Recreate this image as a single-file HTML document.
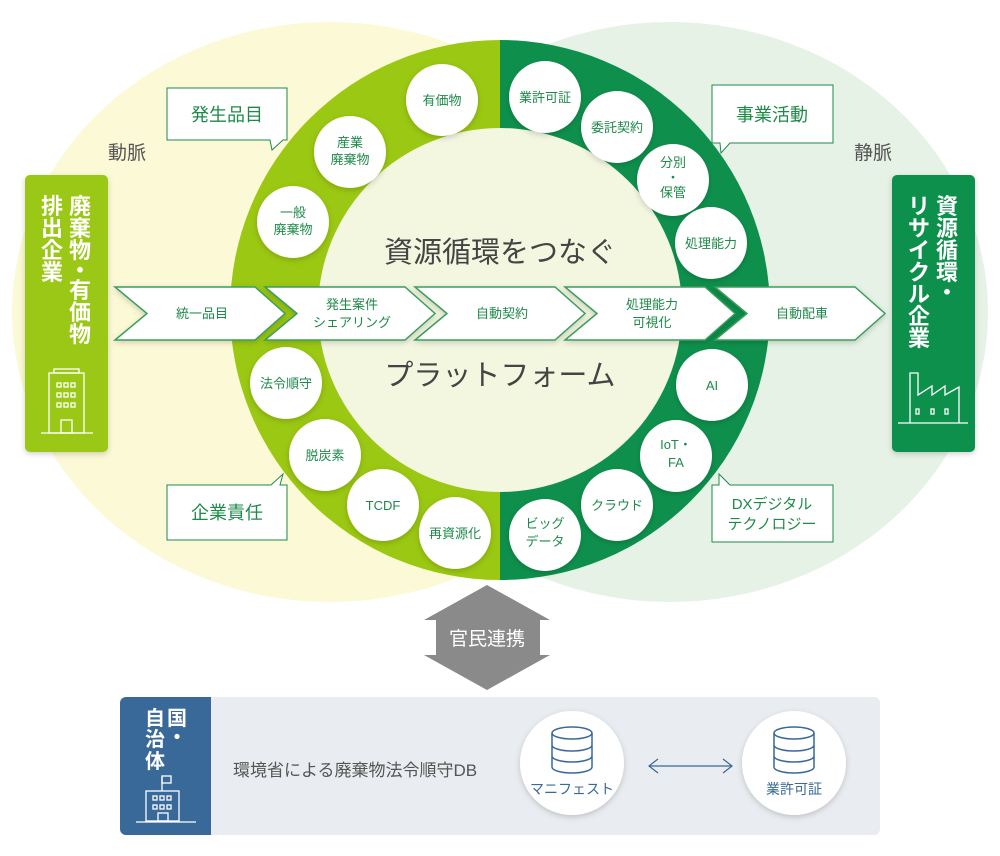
<!DOCTYPE html>
<html><head><meta charset="utf-8"><style>
html,body{margin:0;padding:0;background:#fff}
svg{display:block}
text{font-family:"Liberation Sans","Noto Sans CJK JP",sans-serif}
</style></head><body>
<svg width="1000" height="856" viewBox="0 0 1000 856" xmlns="http://www.w3.org/2000/svg">
<defs>
<filter id="sh" x="-20%" y="-20%" width="140%" height="140%"><feDropShadow dx="0" dy="2" stdDeviation="3" flood-color="#000" flood-opacity="0.18"/></filter>
</defs>
<ellipse cx="330" cy="312" rx="318" ry="290" fill="#fcf9d6"/>
<ellipse cx="670" cy="312" rx="318" ry="290" fill="#e6f2e5"/>
<path d="M500 40 A270 270 0 0 0 500 580Z" fill="#9bc812"/>
<path d="M500 40 A270 270 0 0 1 500 580Z" fill="#0e904c"/>
<circle cx="500" cy="310" r="182" fill="#f3f7e0"/>
<text x="500" y="262" font-size="29" fill="#444" text-anchor="middle">資源循環をつなぐ</text>
<text x="500" y="385" font-size="29" fill="#444" text-anchor="middle">プラットフォーム</text>

<g filter="url(#sh)" fill="#fff">
<circle cx="442" cy="100" r="36"/><circle cx="350" cy="152" r="36"/><circle cx="293" cy="222" r="36"/>
<circle cx="286" cy="383" r="36"/><circle cx="325" cy="455" r="36"/><circle cx="383" cy="505" r="36"/><circle cx="455" cy="533" r="36"/>
<circle cx="545" cy="97" r="36"/><circle cx="617" cy="127" r="36"/><circle cx="673" cy="180" r="36"/><circle cx="711" cy="243" r="36"/>
<circle cx="712" cy="385" r="36"/><circle cx="676" cy="456" r="36"/><circle cx="617" cy="505" r="36"/><circle cx="545" cy="535" r="36"/>
</g>
<g font-size="13" fill="#1e8a4a" text-anchor="middle">
<text x="442" y="105">有価物</text>
<text x="350" y="147">産業</text><text x="350" y="164">廃棄物</text>
<text x="293" y="217">一般</text><text x="293" y="234">廃棄物</text>
<text x="286" y="388">法令順守</text>
<text x="325" y="460">脱炭素</text>
<text x="383" y="510">TCDF</text>
<text x="455" y="538">再資源化</text>
<text x="545" y="102">業許可証</text>
<text x="617" y="132">委託契約</text>
<text x="673" y="167">分別</text><text x="673" y="182">・</text><text x="673" y="197">保管</text>
<text x="711" y="248">処理能力</text>
<text x="712" y="390">AI</text>
<text x="676" y="449">IoT・</text><text x="676" y="467">FA</text>
<text x="617" y="510">クラウド</text>
<text x="545" y="528">ビッグ</text><text x="545" y="546">データ</text>
</g>

<g stroke="#3a9e5c" stroke-width="1.5" fill="#fff" filter="url(#sh)">
<path d="M115 287 L255 287 L285 313.5 L255 340 L115 340 L147 313.5Z"/>
<path d="M265 287 L405 287 L435 313.5 L405 340 L265 340 L297 313.5Z"/>
<path d="M415 287 L555 287 L585 313.5 L555 340 L415 340 L447 313.5Z"/>
<path d="M565 287 L705 287 L735 313.5 L705 340 L565 340 L597 313.5Z"/>
<path d="M715 287 L855 287 L885 313.5 L855 340 L715 340 L747 313.5Z"/>
</g>
<g font-size="13" fill="#1e8a4a" text-anchor="middle">
<text x="202" y="318">統一品目</text>
<text x="352" y="309">発生案件</text><text x="352" y="327">シェアリング</text>
<text x="502" y="318">自動契約</text>
<text x="652" y="309">処理能力</text><text x="652" y="327">可視化</text>
<text x="802" y="318">自動配車</text>
</g>

<g fill="#fff" stroke="#1e8a4a" stroke-width="1">
<path d="M167 88 H287 V140 H283 L272 150 L270 140 H167Z"/>
<path d="M712 85 H833 V143 H730 L721 153 L720 143 H712Z"/>
<path d="M167 485 H271 L283 474 L280 485 H287 V540 H167Z"/>
<path d="M712 485 H719 L719 474 L730 485 H833 V542 H712Z"/>
</g>
<g font-size="18" fill="#1e8a4a" text-anchor="middle">
<text x="227" y="121">発生品目</text>
<text x="772" y="121">事業活動</text>
<text x="227" y="519">企業責任</text>
</g>
<text x="772" y="509" font-size="15" fill="#1e8a4a" text-anchor="middle">DXデジタル</text>
<text x="772" y="529" font-size="15" fill="#1e8a4a" text-anchor="middle">テクノロジー</text>
<text x="127" y="159" font-size="19" fill="#555" text-anchor="middle">動脈</text>
<text x="873" y="159" font-size="19" fill="#555" text-anchor="middle">静脈</text>

<rect x="25" y="175" width="83" height="277" rx="5" fill="#9bc812" filter="url(#sh)"/>
<g font-size="22" font-weight="bold" fill="#fff" text-anchor="middle">
<text x="80" y="214">廃</text><text x="80" y="236">棄</text><text x="80" y="258">物</text><text x="80" y="278">・</text><text x="80" y="298">有</text><text x="80" y="320">価</text><text x="80" y="342">物</text>
<text x="52" y="214">排</text><text x="52" y="236">出</text><text x="52" y="258">企</text><text x="52" y="280">業</text>
</g>
<g stroke="#fff" stroke-width="1.3" fill="none">
<rect x="49" y="373" width="35" height="60"/><rect x="54" y="369" width="25" height="4"/>
<rect x="57" y="383" width="4" height="4"/><rect x="64" y="383" width="4" height="4"/><rect x="71" y="383" width="4" height="4"/>
<rect x="57" y="393" width="4" height="4"/><rect x="64" y="393" width="4" height="4"/><rect x="71" y="393" width="4" height="4"/>
<rect x="57" y="403" width="4" height="4"/><rect x="64" y="403" width="4" height="4"/><rect x="71" y="403" width="4" height="4"/>
<rect x="61" y="420" width="11" height="13"/><line x1="41" y1="433" x2="93" y2="433"/>
</g>

<rect x="892" y="175" width="83" height="277" rx="5" fill="#0e904c" filter="url(#sh)"/>
<g font-size="22" font-weight="bold" fill="#fff" text-anchor="middle">
<text x="947" y="214">資</text><text x="947" y="236">源</text><text x="947" y="258">循</text><text x="947" y="280">環</text><text x="947" y="300">・</text>
<text x="919" y="214">リ</text><text x="919" y="236">サ</text><text x="919" y="258">イ</text><text x="919" y="280">ク</text><text x="919" y="302">ル</text><text x="919" y="324">企</text><text x="919" y="346">業</text>
</g>
<g stroke="#fff" stroke-width="1.3" fill="none">
<path d="M910 423 V373 H918 V395 L932 386 V395 L945 386 V395 L959 387 V423"/>
<rect x="916" y="409" width="3" height="5"/><rect x="931" y="409" width="3" height="5"/><rect x="945" y="409" width="3" height="5"/>
<line x1="898" y1="423" x2="968" y2="423"/>
</g>

<path d="M487 585 L550 620 L540 620 L540 655 L550 655 L487 690 L424 655 L436 655 L436 620 L424 620Z" fill="#8a8a8a"/>
<text x="487" y="645" font-size="19" fill="#fff" text-anchor="middle">官民連携</text>

<rect x="120" y="697" width="760" height="138" rx="6" fill="#e9ecf0"/>
<path d="M126 697 H211 V835 H126 A6 6 0 0 1 120 829 V703 A6 6 0 0 1 126 697Z" fill="#386999"/>
<g font-size="20" font-weight="bold" fill="#fff" text-anchor="middle">
<text x="177" y="725">国</text><text x="177" y="744">・</text>
<text x="155" y="725">自</text><text x="155" y="746">治</text><text x="155" y="768">体</text>
</g>
<g stroke="#fff" stroke-width="1.3" fill="none">
<line x1="162" y1="791" x2="162" y2="777"/><rect x="162" y="776" width="9" height="7"/>
<rect x="146" y="791" width="33" height="30"/>
<rect x="153" y="796" width="4" height="4"/><rect x="160" y="796" width="4" height="4"/><rect x="167" y="796" width="4" height="4"/>
<rect x="153" y="805" width="4" height="4"/><rect x="160" y="805" width="4" height="4"/><rect x="167" y="805" width="4" height="4"/>
<rect x="158" y="813" width="10" height="8"/><line x1="136" y1="822" x2="196" y2="822"/>
</g>
<text x="233" y="776" font-size="17" fill="#555">環境省による廃棄物法令順守DB</text>
<circle cx="572" cy="763" r="52" fill="#fff" filter="url(#sh)"/>
<circle cx="794" cy="763" r="52" fill="#fff" filter="url(#sh)"/>
<g stroke="#386999" stroke-width="1.5" fill="none">
<g transform="translate(572,0)">
<ellipse cx="0" cy="733" rx="20" ry="6"/><path d="M-20 733 V767 A20 6 0 0 0 20 767 V733 M-20 745 A20 6 0 0 0 20 745 M-20 756 A20 6 0 0 0 20 756"/>
</g>
<g transform="translate(794,0)">
<ellipse cx="0" cy="733" rx="20" ry="6"/><path d="M-20 733 V767 A20 6 0 0 0 20 767 V733 M-20 745 A20 6 0 0 0 20 745 M-20 756 A20 6 0 0 0 20 756"/>
</g>
<path d="M649 766 H732 M658 759 L649 766 L658 773 M723 759 L732 766 L723 773" stroke-width="1.2"/>
</g>
<text x="572" y="794" font-size="14" fill="#386999" text-anchor="middle">マニフェスト</text>
<text x="794" y="794" font-size="14" fill="#386999" text-anchor="middle">業許可証</text>
</svg>
</body></html>
